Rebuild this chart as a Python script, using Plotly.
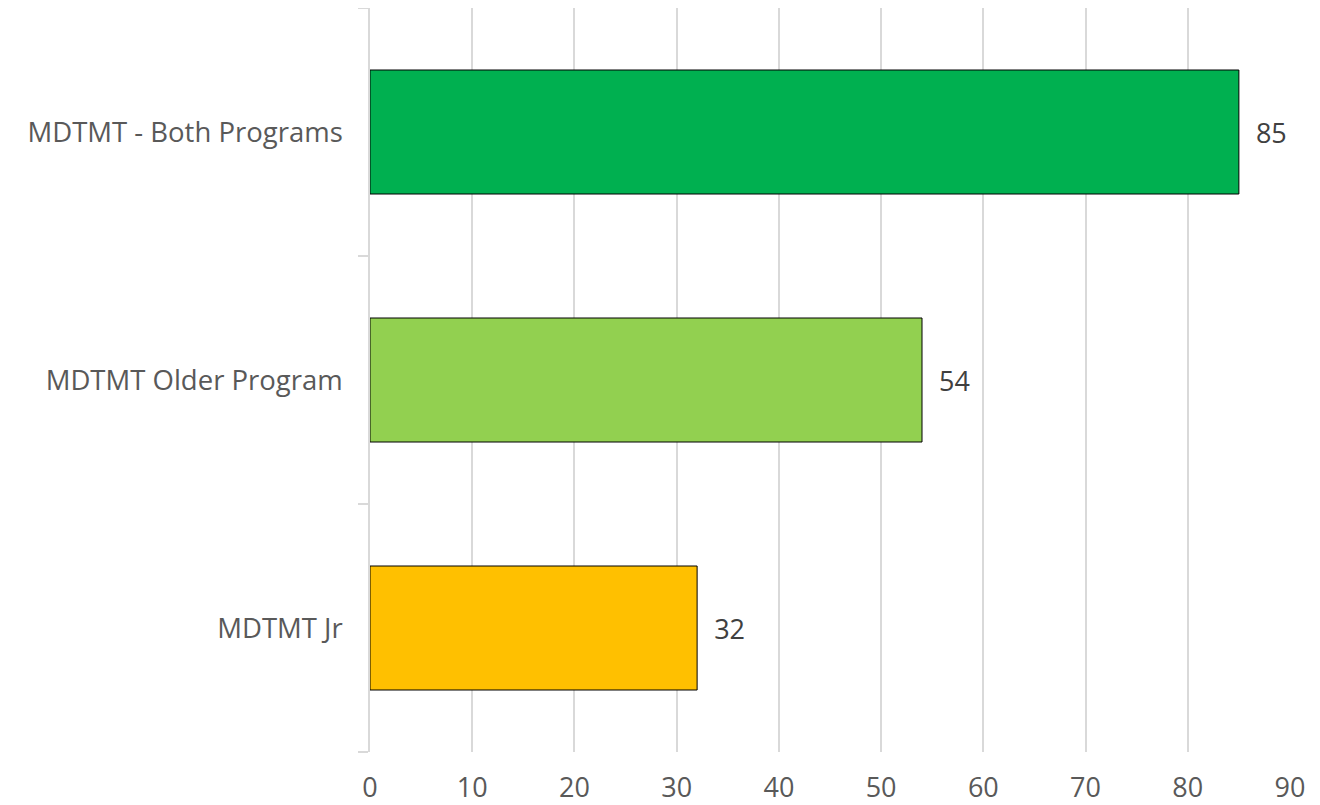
import plotly.graph_objects as go

categories = ["MDTMT Jr", "MDTMT Older Program", "MDTMT - Both Programs"]
values = [32, 54, 85]
colors = ["#FFC000", "#92D050", "#00B050"]
x_ticks = [0, 10, 20, 30, 40, 50, 60, 70, 80, 90]

FONT = "Open Sans"

fig = go.Figure(go.Bar(
    y=categories, x=values, orientation="h",
    marker=dict(color=colors, line=dict(color="#000000", width=1)),
    text=values, texttemplate="  %{x}", textposition="outside",
    textfont=dict(size=27, color="#404040", family=FONT),
    cliponaxis=False, width=0.5,
))

fig.update_layout(
    width=1312, height=797,
    margin=dict(l=362, r=30, t=0, b=53),
    paper_bgcolor="white", plot_bgcolor="white",
    showlegend=False,
    font=dict(family=FONT, size=27, color="#595959"),
    xaxis=dict(range=[0, 90], tickvals=x_ticks, showgrid=True, gridcolor="#D9D9D9",
               gridwidth=1.5, zeroline=False, showline=False, ticks="",
               ticklabelstandoff=17, automargin=False,
               tickfont=dict(size=27, color="#595959")),
    yaxis=dict(categoryorder="array", categoryarray=categories, showline=True,
               linecolor="#D9D9D9", linewidth=1.5, ticks="outside", tickson="boundaries",
               ticklen=10, tickcolor="#D9D9D9", tickwidth=1.5, ticklabelstandoff=20,
               automargin=False, showgrid=False,
               tickfont=dict(size=27.5, color="#595959")),
)

fig.write_html("out.html")
